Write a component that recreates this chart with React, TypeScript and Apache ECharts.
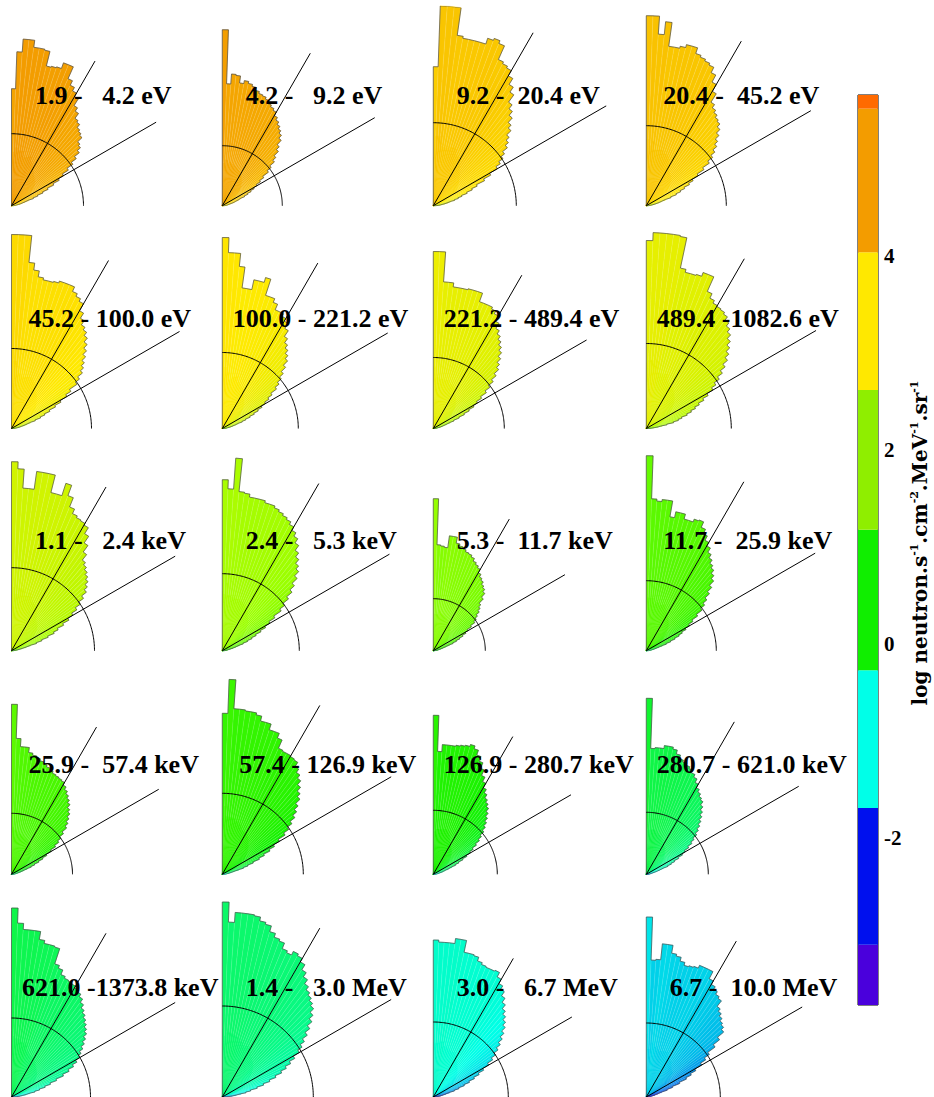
import React, { useEffect, useRef } from "react";
import * as echarts from "echarts";

// ---------- DATA ----------
const BIN_DEG = 2; // angular bin width (deg), 45 bins from 0 to 90
const energyLo = [1.9, 4.2, 9.2, 20.4, 45.2, 100.0, 221.2, 489.4, 1.1, 2.4, 5.3, 11.7, 25.9, 57.4, 126.9, 280.7, 621.0, 1.4, 3.0, 6.7];
const energyHi = [4.2, 9.2, 20.4, 45.2, 100.0, 221.2, 489.4, 1082.6, 2.4, 5.3, 11.7, 25.9, 57.4, 126.9, 280.7, 621.0, 1373.8, 3.0, 6.7, 10.0];
const energyUnit = ["eV", "eV", "eV", "eV", "eV", "eV", "eV", "eV", "keV", "keV", "keV", "keV", "keV", "keV", "keV", "keV", "keV", "MeV", "MeV", "MeV"];
// log flux at each panel's peak bin
const peakLog = [4.8, 4.75, 4.05, 4.1, 3.65, 3.45, 3.1, 3.0, 2.7, 2.15, 1.85, 1.35, 1.25, 0.9, 0.7, 0.2, 0.05, -0.15, -0.75, -1.1];
// reference (isotropic) level drawn as an arc
const refLevel = [72, 60, 83, 80, 80, 76, 71, 85, 83, 77, 52, 70, 61, 81, 64, 62, 79, 91, 75, 74];

const f1 = [117,154,167,167,160,160,159,144,145,146,152,152,139,134,130,126,118,114,108,106,102,100,98,92,90,86,80,74,67,60,54,47,40,34,28,23,18,14,11,9,7,5,4,3,2];
const f2 = [176,122,132,131,124,127,125,123,120,118,117,115,112,110,108,104,101,98,95,92,88,82,78,72,68,62,57,50,45,40,36,32,28,24,20,17,14,12,9,7,6,5,4,3,2];
const f3 = [139,200,200,200,172,170,170,170,170,176,178,175,160,158,156,150,143,137,128,123,118,112,108,102,98,94,88,84,79,74,65,57,48,42,36,30,26,22,18,15,12,9,7,5,3];
const f4 = [190,190,172,185,161,161,163,166,166,160,158,156,154,148,140,132,122,118,115,112,110,106,101,96,92,87,82,76,68,60,53,48,42,37,32,26,20,16,13,10,8,6,4,3,2];
const f5 = [194,194,194,167,160,154,152,152,153,155,155,155,150,147,144,136,130,125,122,118,113,108,103,98,94,90,84,79,70,64,56,49,42,36,31,25,20,16,13,10,8,6,4,3,2];
const f6 = [191,176,176,163,142,142,152,152,157,140,140,136,130,130,127,124,118,111,106,102,98,94,88,82,77,72,67,60,55,50,45,40,35,30,25,21,17,14,11,9,7,5,4,3,2];
const f7 = [177,177,147,147,143,143,143,144,144,144,135,135,135,133,130,124,118,114,110,106,102,97,92,88,82,76,70,64,57,51,46,40,34,28,22,18,14,11,9,7,5,4,3,2,1];
const f8 = [188,196,196,196,196,195,164,161,161,162,166,166,150,145,142,141,140,138,134,130,126,121,116,111,106,100,94,88,82,77,70,64,58,53,48,43,37,33,28,21,16,12,8,5,3];
const f9 = [189,182,163,163,181,181,181,163,163,176,165,155,150,148,147,145,138,130,122,115,112,109,106,103,99,95,89,83,77,71,65,58,51,46,39,32,26,20,15,11,8,6,4,3,2];
const f10 = [171,162,193,160,159,156,156,156,154,154,152,150,148,146,143,139,135,130,124,119,114,110,104,97,91,84,77,71,62,55,49,43,37,32,27,22,18,14,11,8,6,5,4,3,2];
const f11 = [152,106,105,104,116,116,110,108,106,104,103,101,98,96,94,90,87,85,82,80,77,72,66,63,60,56,53,50,45,40,37,33,29,25,21,17,13,10,8,6,5,4,3,2,1];
const f12 = [195,152,150,152,152,136,142,142,137,137,140,141,135,130,125,121,116,112,108,105,101,97,91,85,79,74,69,62,55,50,45,40,36,31,26,21,17,13,10,8,6,5,4,3,2];
const f13 = [170,136,128,128,123,121,119,117,115,113,111,109,108,107,106,103,100,97,94,91,87,84,80,76,72,66,61,57,52,46,40,35,30,25,21,17,13,10,8,6,5,4,3,2,1];
const f14 = [161,195,166,166,165,165,163,158,158,152,152,147,138,137,137,136,135,130,126,122,117,112,108,102,97,92,86,80,74,66,59,53,46,40,33,27,22,17,12,9,7,5,4,3,2];
const f15 = [159,123,130,130,130,131,132,133,135,132,127,122,116,110,105,100,96,92,89,86,82,78,74,70,66,61,57,52,47,43,38,33,28,24,20,16,12,10,8,6,5,4,3,2,1];
const f16 = [176,126,127,127,130,130,128,124,120,118,116,114,111,108,104,100,97,94,92,88,84,80,76,72,68,64,59,55,50,45,41,36,31,27,23,18,14,11,8,6,5,4,3,2,1];
const f17 = [189,174,168,168,168,160,157,157,156,140,137,132,130,129,128,126,124,121,117,113,110,107,104,101,98,94,90,86,82,79,74,69,63,56,48,41,35,29,24,19,15,11,8,5,3];
const f18 = [195,175,185,185,185,184,180,178,172,168,166,160,158,162,160,156,150,145,140,136,133,130,127,122,117,111,105,99,94,89,82,76,70,64,57,50,43,36,29,24,19,14,10,6,3];
const f19 = [157,155,155,155,160,160,148,148,147,143,141,140,140,141,136,131,127,122,117,112,108,104,100,95,90,85,80,75,70,64,57,51,45,39,33,27,22,17,13,10,8,6,4,3,2];
const f20 = [180,137,138,154,154,146,144,140,137,138,139,142,142,142,134,130,127,124,122,115,112,109,106,104,101,93,85,76,70,64,56,50,44,36,28,22,16,12,9,7,5,4,3,2,1];
const panels = [f1, f2, f3, f4, f5, f6, f7, f8, f9, f10, f11, f12, f13, f14, f15, f16, f17, f18, f19, f20];

// colour bar bands (log units)
const bandLo = [-3.72, -3.1, -1.69, -0.27, 1.18, 2.62, 4.04, 5.52];
const bandHi = [-3.1, -1.69, -0.27, 1.18, 2.62, 4.04, 5.52, 5.66];
const bandColor = ["#4a00dc", "#0010ee", "#00ffe8", "#10ee00", "#8fee00", "#ffe800", "#f39c00", "#ff6a00"];
// continuous colour scale used for the bins (stops evenly spread over its range)
const scaleMin = -3.81;
const scaleMax = 6.23;
const scaleColors = ["#4a00dc", "#0010ee", "#00ffe8", "#14f200", "#9cff00", "#ffea00", "#f39c00", "#ff6a00"];
const cbarMin = -3.72;
const cbarMax = 5.66;

// ---------- LAYOUT ----------
const COL_X = [11.5, 222.3, 433.3, 646.3];
const ROW_Y = [205.7, 428.5, 650.7, 874.3, 1097];
const POLAR_R = 200;
const FONT = '"Liberation Serif", "Times New Roman", serif';
const TITLE_FONT = '"DejaVu Serif", serif';

function fmtLabel(i: number) {
  const lo = energyLo[i].toFixed(1).padStart(5, " ");
  const hi = energyHi[i].toFixed(1).padStart(6, " ");
  return (lo + " -" + hi + " " + energyUnit[i]).replace(/ /g, "\u00a0");
}

function renderBin(params: any, api: any) {
  const r = api.value(0);
  const a0 = api.value(1);
  const a1 = api.value(2);
  const color = api.visual("color");
  const pts: number[][] = [api.coord([0, a0])];
  for (let s = 0; s <= 4; s++) pts.push(api.coord([r, a0 + ((a1 - a0) * s) / 4]));
  const pIn = api.coord([r * 0.35, a0]);
  const pOut = api.coord([r, a0]);
  return {
    type: "group",
    children: [
      { type: "polygon", shape: { points: pts }, style: { fill: color, stroke: color, lineWidth: 0.3 } },
      {
        type: "line",
        shape: { x1: pIn[0], y1: pIn[1], x2: pOut[0], y2: pOut[1] },
        style: { stroke: "rgba(255,255,255,0.28)", lineWidth: 0.5 },
      },
    ],
  };
}

function renderBand(params: any, api: any) {
  const p0 = api.coord([0, api.value(2)]);
  const p1 = api.coord([1, api.value(1)]);
  return {
    type: "rect",
    shape: { x: p0[0], y: p0[1], width: p1[0] - p0[0], height: p1[1] - p0[1] },
    style: { fill: bandColor[params.dataIndex] },
  };
}

function buildOption() {
  const polar: any[] = [];
  const angleAxis: any[] = [];
  const radiusAxis: any[] = [];
  const series: any[] = [];
  const graphic: any[] = [];
  const customIdx: number[] = [];

  panels.forEach((flux, i) => {
    const ox = COL_X[i % 4];
    const oy = ROW_Y[Math.floor(i / 4)];
    polar.push({ center: [ox, oy], radius: POLAR_R });
    angleAxis.push({
      polarIndex: i, type: "value", min: 0, max: 360, startAngle: 90, clockwise: true,
      axisLine: { show: false }, axisTick: { show: false }, axisLabel: { show: false }, splitLine: { show: false },
    });
    radiusAxis.push({
      polarIndex: i, type: "value", min: 0, max: POLAR_R,
      axisLine: { show: false }, axisTick: { show: false }, axisLabel: { show: false }, splitLine: { show: false },
    });
    const maxR = Math.max(...flux);
    const items = flux.map((r, k) => [r, k * BIN_DEG, (k + 1) * BIN_DEG, peakLog[i] + Math.log10(r / maxR)]);
    customIdx.push(series.length);
    series.push({ type: "custom", coordinateSystem: "polar", polarIndex: i, data: items, renderItem: renderBin, z: 2, silent: true });

    const outline: number[][] = [[0, 0]];
    flux.forEach((r, k) => {
      outline.push([r, k * BIN_DEG]);
      outline.push([r, (k + 1) * BIN_DEG]);
    });
    outline.push([0, flux.length * BIN_DEG]);
    series.push({
      type: "line", coordinateSystem: "polar", polarIndex: i, data: outline, symbol: "none", silent: true,
      lineStyle: { color: "#4a4a4a", width: 0.7 }, z: 3,
    });

    const arc: number[][] = [];
    for (let a = 0; a <= 90; a += 1) arc.push([refLevel[i], a]);
    series.push({
      type: "line", coordinateSystem: "polar", polarIndex: i, data: arc, symbol: "none", silent: true,
      lineStyle: { color: "#000", width: 1 }, z: 4,
    });
    [30, 60].forEach((ang) => {
      series.push({
        type: "line", coordinateSystem: "polar", polarIndex: i, data: [[0, ang], [maxR, ang]], symbol: "none", silent: true,
        lineStyle: { color: "#000", width: 1 }, z: 4,
      });
    });

    graphic.push({
      type: "text", x: ox + 10.5, y: oy - 110, z: 100,
      style: {
        text: fmtLabel(i), fontFamily: FONT, fontWeight: "bold", fontSize: 26, fill: "#000",
        align: "left", verticalAlign: "middle",
      },
    });
  });

  // colour bar
  series.push({
    type: "custom", coordinateSystem: "cartesian2d", xAxisIndex: 0, yAxisIndex: 0,
    data: bandLo.map((lo, k) => [0, lo, bandHi[k]]), renderItem: renderBand, z: 2, silent: true,
  });

  graphic.push({
    type: "text", x: 920, y: 543, rotation: Math.PI / 2, z: 100,
    style: {
      text: "{a|log neutron.s}{s|-1}{a|.cm}{s|-2}{a|.MeV}{s|-1}{a|.sr}{s|-1}",
      align: "center", verticalAlign: "middle",
      rich: {
        a: { fontFamily: TITLE_FONT, fontWeight: "bold", fontSize: 20, fill: "#000", lineHeight: 22 },
        s: { fontFamily: TITLE_FONT, fontWeight: "bold", fontSize: 11, fill: "#000", lineHeight: 11, verticalAlign: "top" },
      },
    },
  });

  return {
    animation: false,
    backgroundColor: "#fff",
    polar, angleAxis, radiusAxis,
    grid: [{ left: 858, top: 95, width: 20, height: 910, show: true, borderColor: "#000", borderWidth: 1, backgroundColor: "transparent" }],
    xAxis: [{ gridIndex: 0, type: "value", min: 0, max: 1, show: false }],
    yAxis: [{
      gridIndex: 0, type: "value", min: cbarMin, max: cbarMax, position: "right", splitNumber: 5,
      axisLine: { show: false }, axisTick: { show: false }, splitLine: { show: false },
      axisLabel: {
        show: true, showMinLabel: false, showMaxLabel: false, margin: 6,
        fontFamily: FONT, fontWeight: "bold", fontSize: 21, color: "#000",
      },
    }],
    visualMap: [{
      type: "continuous", show: false, min: scaleMin, max: scaleMax, dimension: 3, seriesIndex: customIdx,
      inRange: { color: scaleColors },
    }],
    series,
    graphic,
  };
}

export default function App() {
  const ref = useRef<HTMLDivElement>(null);
  useEffect(() => {
    if (!ref.current) return;
    const chart = echarts.init(ref.current, undefined, { renderer: "svg" });
    chart.setOption(buildOption() as any);
    return () => chart.dispose();
  }, []);
  return <div ref={ref} style={{ position: "absolute", left: 0, top: 0, width: 934, height: 1097 }} />;
}
